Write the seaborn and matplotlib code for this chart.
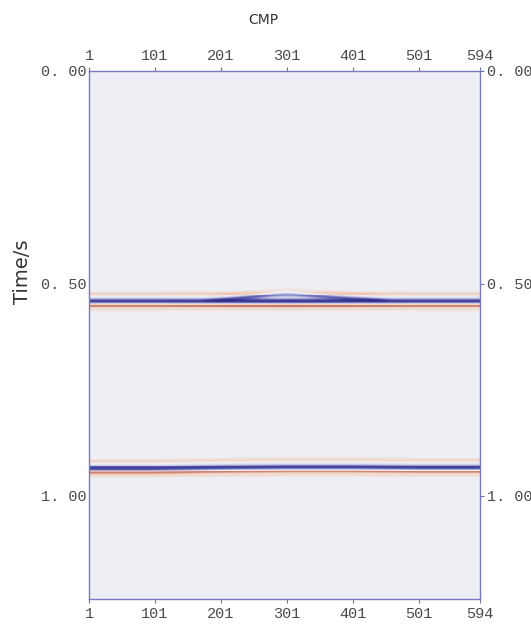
import numpy as np
import pandas as pd
import matplotlib
matplotlib.use("Agg")
import matplotlib.pyplot as plt
import matplotlib.transforms as mtransforms
from matplotlib.colors import LinearSegmentedColormap
import seaborn as sns

# ---- data ----
cmp_ticks = [1, 101, 201, 301, 401, 501, 594]
time_ticks = [0.0, 0.5, 1.0]
time_tick_labels = ["0. 00", "0. 50", "1. 00"]

# reflector 1 (flat)
r1_cmp = [1, 101, 201, 301, 401, 501, 594]
r1_time = [0.541, 0.541, 0.541, 0.541, 0.541, 0.541, 0.541]
r1_amp = [0.85, 0.85, 0.90, 0.95, 0.90, 0.85, 0.85]

# small anticline event merging into reflector 1 near CMP 300
r1b_cmp = [1, 171, 211, 251, 281, 301, 321, 351, 391, 431, 461, 594]
r1b_time = [0.539, 0.539, 0.536, 0.531, 0.527, 0.526, 0.527, 0.530, 0.534, 0.537, 0.539, 0.539]
r1b_amp = [0.0, 0.0, 0.40, 0.55, 0.62, 0.65, 0.62, 0.55, 0.45, 0.30, 0.0, 0.0]

# reflector 2 (nearly flat)
r2_cmp = [1, 101, 201, 301, 401, 501, 594]
r2_time = [0.934, 0.934, 0.932, 0.931, 0.931, 0.932, 0.932]
r2_amp = [0.80, 0.80, 0.80, 0.80, 0.80, 0.80, 0.80]

n_cmp = 594
dt = 0.002
t_max = 1.242

# ---- build section ----
cmps = np.arange(1, n_cmp + 1)
times = np.arange(0, t_max, dt) + dt / 2


def wavelet(tau):
    main = np.exp(-(tau / 0.0055) ** 2)
    below = -0.65 * np.exp(-((tau - 0.0110) / 0.0036) ** 2)
    above = -0.22 * np.exp(-((tau + 0.017) / 0.0045) ** 2)
    below2 = -0.15 * np.exp(-((tau - 0.019) / 0.004) ** 2)
    return main + below + above + below2


def main_only(tau):
    return np.exp(-(tau / 0.0045) ** 2) - 0.15 * np.exp(-((tau + 0.012) / 0.004) ** 2)


section = np.zeros((len(times), n_cmp))
for rc, rt, ra, w in [(r1_cmp, r1_time, r1_amp, wavelet),
                      (r1b_cmp, r1b_time, r1b_amp, main_only),
                      (r2_cmp, r2_time, r2_amp, wavelet)]:
    t0 = np.interp(cmps, rc, rt)
    a0 = np.interp(cmps, rc, ra)
    section += a0[None, :] * w(times[:, None] - t0[None, :])

section = np.clip(section, -1, 1)
df = pd.DataFrame(section, index=np.round(times, 4), columns=cmps)

cmap = LinearSegmentedColormap.from_list(
    "seis",
    [(0.0, "#9a3428"), (0.2, "#c06a58"), (0.37, "#f0c6b0"), (0.5, "#eef0f5"),
     (0.63, "#bcbce2"), (0.8, "#5a5ab0"), (1.0, "#28287e")])

sns.set_style("white")
fig = plt.figure(figsize=(5.31, 6.25), dpi=100)
ax = fig.add_axes([89 / 531, 1 - 599 / 625, (480 - 89) / 531, (599 - 71) / 625])

sns.heatmap(df, ax=ax, cmap=cmap, vmin=-1, vmax=1, cbar=False,
            xticklabels=False, yticklabels=False, rasterized=True)

nt = len(times)
xpos = [(c - 1) * n_cmp / (n_cmp - 1) for c in cmp_ticks]
ypos = [t / t_max * nt for t in time_ticks]

ax.set_xticks(xpos)
ax.set_xticklabels([str(c) for c in cmp_ticks])
ax.set_yticks(ypos)
ax.set_yticklabels(time_tick_labels)
ax.set_xlabel("")
ax.set_ylabel("")

ax.tick_params(axis="x", which="both", top=True, bottom=True, labeltop=True,
               labelbottom=True, direction="out", length=3, width=0.8,
               color="#7070b8", pad=3)
ax.tick_params(axis="y", which="both", left=False, right=True, labelleft=True,
               labelright=True, direction="out", length=3, width=0.8,
               color="#7070b8", pad=-1)
for lab in ax.get_xticklabels():
    lab.set_fontfamily("Liberation Mono")
    lab.set_fontsize(11)
    lab.set_color("#4a4a4a")

shift_l = mtransforms.ScaledTranslation(0, -1 / 100, fig.dpi_scale_trans)
shift_r = mtransforms.ScaledTranslation(4 / 100, -1 / 100, fig.dpi_scale_trans)
for t in ax.yaxis.get_major_ticks():
    for lab, sh in ((t.label1, shift_l), (t.label2, shift_r)):
        lab.set_fontfamily("Liberation Mono")
        lab.set_fontsize(11)
        lab.set_color("#4a4a4a")
        lab.set_va("center")
        lab.set_transform(lab.get_transform() + sh)

for sp in ax.spines.values():
    sp.set_visible(True)
    sp.set_color("#7878c0")
    sp.set_linewidth(1.0)

fig.text(263 / 531, 1 - 20 / 625, "CMP", ha="center", va="center",
         fontsize=10, family="DejaVu Sans", color="#333333")
fig.text(22 / 531, 1 - 272 / 625, "Time/s", ha="center", va="center",
         rotation=90, fontsize=14, family="DejaVu Sans", color="#333333")

fig.savefig("out.png", dpi=100)
